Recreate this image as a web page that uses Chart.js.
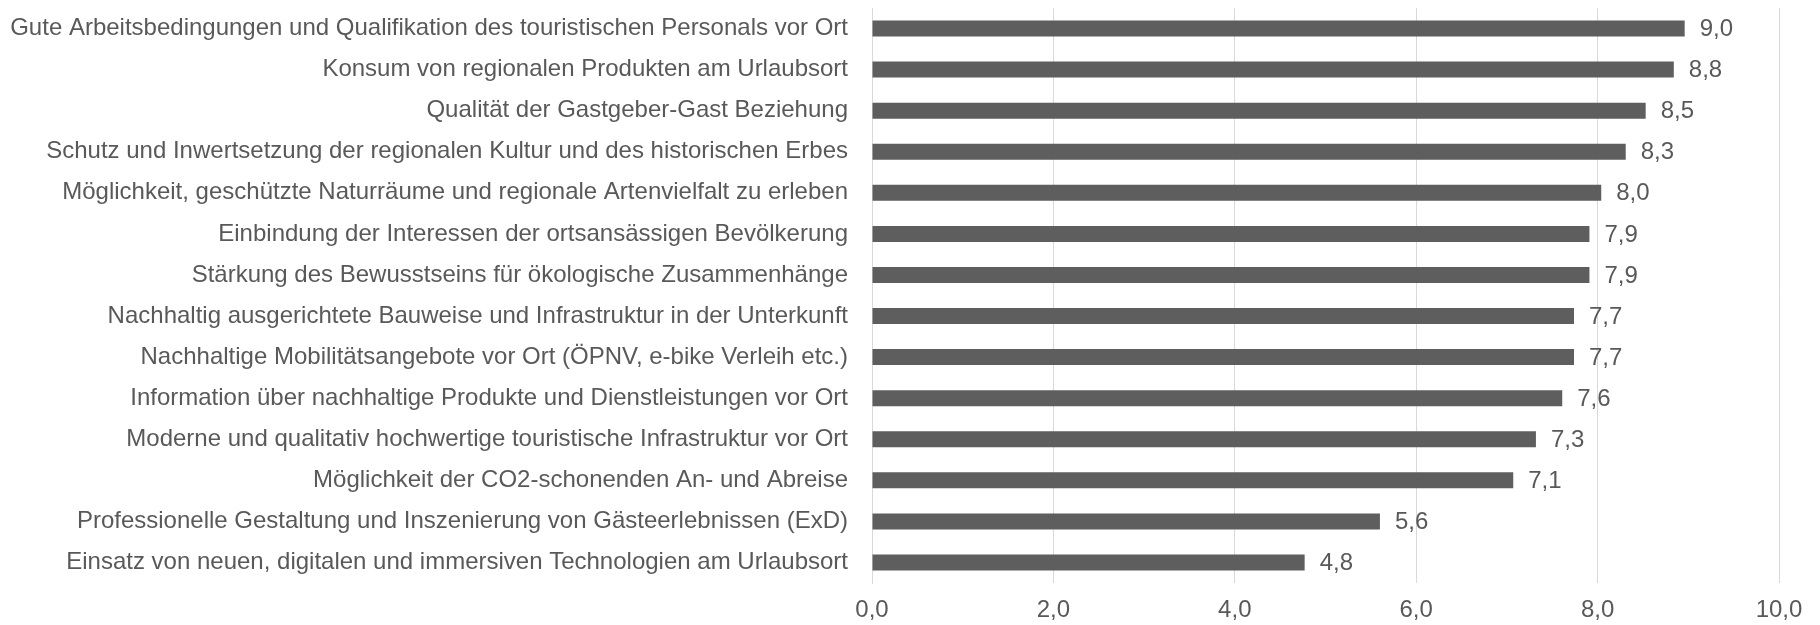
<!DOCTYPE html>
<html>
<head>
<meta charset="utf-8">
<script src="https://cdn.jsdelivr.net/npm/chart.js@4"></script>
<style>
html,body{margin:0;padding:0;background:#fff;}
#wrap{width:1820px;height:625px;}
</style>
</head>
<body>
<div id="wrap"><canvas id="c" width="1820" height="625"></canvas></div>
<script>
const categories = [
  "Gute Arbeitsbedingungen und Qualifikation des touristischen Personals vor Ort",
  "Konsum von regionalen Produkten am Urlaubsort",
  "Qualität der Gastgeber-Gast Beziehung",
  "Schutz und Inwertsetzung der regionalen Kultur und des historischen Erbes",
  "Möglichkeit, geschützte Naturräume und regionale Artenvielfalt zu erleben",
  "Einbindung der Interessen der ortsansässigen Bevölkerung",
  "Stärkung des Bewusstseins für ökologische Zusammenhänge",
  "Nachhaltig ausgerichtete Bauweise und Infrastruktur in der Unterkunft",
  "Nachhaltige Mobilitätsangebote vor Ort (ÖPNV, e-bike Verleih etc.)",
  "Information über nachhaltige Produkte und Dienstleistungen vor Ort",
  "Moderne und qualitativ hochwertige touristische Infrastruktur vor Ort",
  "Möglichkeit der CO2-schonenden An- und Abreise",
  "Professionelle Gestaltung und Inszenierung von Gästeerlebnissen (ExD)",
  "Einsatz von neuen, digitalen und immersiven Technologien am Urlaubsort"
];
const values = [8.96, 8.84, 8.53, 8.31, 8.04, 7.91, 7.91, 7.74, 7.74, 7.61, 7.32, 7.07, 5.60, 4.77];
const xTickValues = [0, 2, 4, 6, 8, 10];

const fmt = v => v.toFixed(1).replace('.', ',');
const TEXT = '#595959';
const FONT = "'Liberation Sans', Arial, sans-serif";

const valueLabels = {
  id: 'valueLabels',
  afterDatasetsDraw(chart) {
    const ctx = chart.ctx;
    const meta = chart.getDatasetMeta(0);
    ctx.save();
    ctx.font = "24px " + FONT;
    ctx.fillStyle = TEXT;
    ctx.textAlign = 'left';
    ctx.textBaseline = 'middle';
    meta.data.forEach((bar, i) => {
      ctx.fillText(fmt(values[i]), bar.x + 15, bar.y + 1);
    });
    ctx.restore();
  }
};

new Chart(document.getElementById('c'), {
  type: 'bar',
  data: {
    labels: categories,
    datasets: [{
      data: values,
      backgroundColor: '#5e5e5e',
      borderWidth: 0,
      barPercentage: 0.39,
      categoryPercentage: 1.0
    }]
  },
  options: {
    indexAxis: 'y',
    responsive: false,
    animation: false,
    devicePixelRatio: 1,
    layout: { padding: { top: 8, right: 41, left: 0, bottom: 0 } },
    plugins: { legend: { display: false }, tooltip: { enabled: false } },
    scales: {
      x: {
        min: 0, max: 10,
        afterBuildTicks(scale) { scale.ticks = xTickValues.map(v => ({ value: v })); },
        afterFit(scale) { scale.height = 42; },
        grid: { color: '#d9d9d9', lineWidth: 1, drawTicks: false },
        border: { display: false },
        ticks: {
          padding: 13,
          color: TEXT,
          font: { family: FONT, size: 24 },
          callback: v => fmt(v)
        }
      },
      y: {
        afterFit(scale) { scale.width = 872; scale.paddingTop = 0; scale.paddingBottom = 0; },
        grid: { display: false, drawTicks: false },
        border: { display: true, color: '#d9d9d9', width: 1 },
        ticks: {
          padding: 24,
          color: TEXT,
          font: { family: FONT, size: 24 },
          autoSkip: false
        }
      }
    }
  },
  plugins: [valueLabels]
});
</script>
</body>
</html>
